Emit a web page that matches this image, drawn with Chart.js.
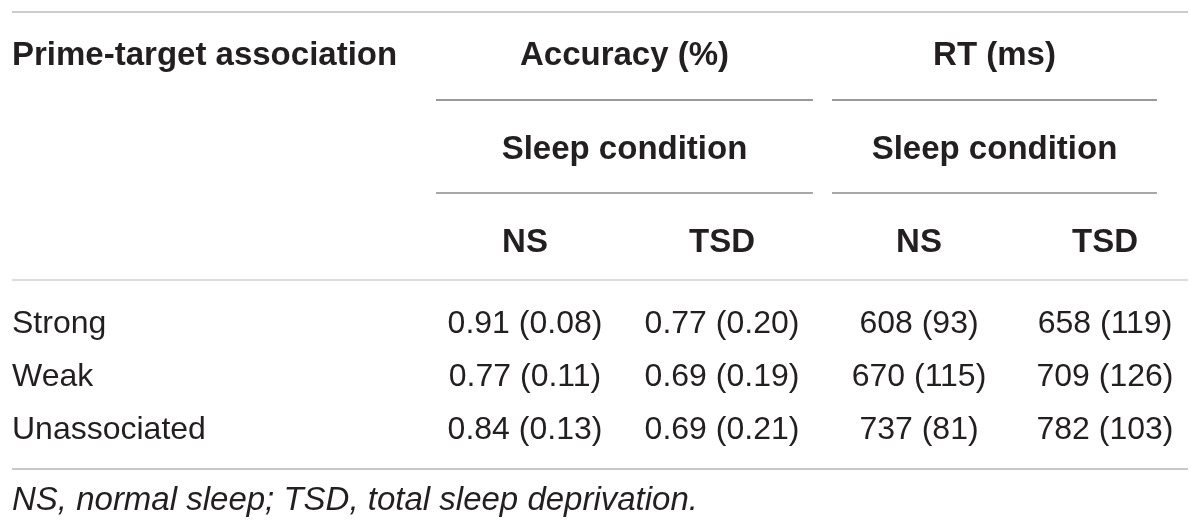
<!DOCTYPE html>
<html lang="en">
  <head>
    <meta charset="UTF-8" />
    <title>Prime-target association</title>
    <script src="https://cdn.jsdelivr.net/npm/chart.js"></script>
    <style>
      html,
      body {
        margin: 0;
        padding: 0;
        background: #ffffff;
      }
      .chart-container {
        position: relative;
        width: 1200px;
        height: 531px;
      }
    </style>
  </head>
  <body>
    <div class="chart-container">
      <canvas id="table"></canvas>
    </div>

    <script>
      // table contents
      const stubHeader = "Prime-target association";
      const groupHeaders = ["Accuracy (%)", "RT (ms)"];
      const subHeader = "Sleep condition";
      const conditions = ["NS", "TSD", "NS", "TSD"];
      const associations = ["Strong", "Weak", "Unassociated"];

      const accNSMean = [0.91, 0.77, 0.84];
      const accNSSD = [0.08, 0.11, 0.13];
      const accTSDMean = [0.77, 0.69, 0.69];
      const accTSDSD = [0.2, 0.19, 0.21];
      const rtNSMean = [608, 670, 737];
      const rtNSSD = [93, 115, 81];
      const rtTSDMean = [658, 709, 782];
      const rtTSDSD = [119, 126, 103];

      const footnote = "NS, normal sleep; TSD, total sleep deprivation.";

      // layout (in page pixels, mapped through the hidden linear scales)
      const layout = {
        left: 12,
        right: 1188,
        groupSpans: [
          [436, 813],
          [832, 1157],
        ],
        cols: [525, 722, 919, 1105],
        topRule: 12,
        groupBase: 65,
        groupRule: 100,
        subBase: 159,
        subRule: 193,
        condBase: 252,
        headRule: 280,
        firstRowBase: 333,
        rowStep: 53,
        bottomRule: 469,
        noteBase: 510,
      };

      const FONT = "'Liberation Sans', Arial, Helvetica, sans-serif";
      const INK = "#231f20";

      const fmtAcc = (m, s) => m.toFixed(2) + " (" + s.toFixed(2) + ")";
      const fmtRT = (m, s) => m + " (" + s + ")";

      const columns = [
        associations.map((_, i) => fmtAcc(accNSMean[i], accNSSD[i])),
        associations.map((_, i) => fmtAcc(accTSDMean[i], accTSDSD[i])),
        associations.map((_, i) => fmtRT(rtNSMean[i], rtNSSD[i])),
        associations.map((_, i) => fmtRT(rtTSDMean[i], rtTSDSD[i])),
      ];

      // one scatter dataset per value column
      const datasets = columns.map((col, c) => ({
        label: conditions[c],
        data: col.map((txt, r) => ({
          x: layout.cols[c],
          y: layout.firstRowBase + r * layout.rowStep,
          txt: txt,
        })),
        pointRadius: 0,
        pointHoverRadius: 0,
      }));
      // stub column
      datasets.push({
        label: "stub",
        data: associations.map((txt, r) => ({
          x: layout.left,
          y: layout.firstRowBase + r * layout.rowStep,
          txt: txt,
          align: "left",
        })),
        pointRadius: 0,
        pointHoverRadius: 0,
      });

      const tablePlugin = {
        id: "tableDraw",
        afterDatasetsDraw(chart) {
          const ctx = chart.ctx;
          const xs = chart.scales.x;
          const ys = chart.scales.y;
          const px = (v) => xs.getPixelForValue(v);
          const py = (v) => ys.getPixelForValue(v);

          function rule(x0, x1, y, color) {
            ctx.save();
            ctx.strokeStyle = color;
            ctx.lineWidth = 2;
            ctx.beginPath();
            ctx.moveTo(px(x0), py(y));
            ctx.lineTo(px(x1), py(y));
            ctx.stroke();
            ctx.restore();
          }

          function text(str, x, y, weight, size, align, style) {
            ctx.save();
            ctx.fillStyle = INK;
            ctx.font = (style || "normal") + " " + weight + " " + size + "px " + FONT;
            ctx.textAlign = align;
            ctx.textBaseline = "alphabetic";
            ctx.fillText(str, x, y);
            ctx.restore();
          }

          // rules
          rule(layout.left, layout.right, layout.topRule, "#cccccc");
          layout.groupSpans.forEach((s) => {
            rule(s[0], s[1], layout.groupRule, "#9a9a9a");
            rule(s[0], s[1], layout.subRule, "#a8a8a8");
          });
          rule(layout.left, layout.right, layout.headRule, "#dddddd");
          rule(layout.left, layout.right, layout.bottomRule, "#c8c8c8");

          // headers
          text(stubHeader, px(layout.left), py(layout.groupBase), "bold", 33, "left");
          groupHeaders.forEach((h, g) => {
            const s = layout.groupSpans[g];
            const cx = px((s[0] + s[1]) / 2);
            text(h, cx, py(layout.groupBase), "bold", 33, "center");
            text(subHeader, cx, py(layout.subBase), "bold", 33, "center");
          });
          conditions.forEach((c, i) => {
            text(c, px(layout.cols[i]), py(layout.condBase), "bold", 33, "center");
          });

          // body cells, positioned from the dataset elements
          chart.data.datasets.forEach((ds, d) => {
            const meta = chart.getDatasetMeta(d);
            meta.data.forEach((el, i) => {
              const pt = ds.data[i];
              text(pt.txt, el.x, el.y, "normal", 32, pt.align || "center");
            });
          });

          // footnote
          text(footnote, px(layout.left), py(layout.noteBase), "normal", 33, "left", "italic");
        },
      };

      new Chart(document.getElementById("table").getContext("2d"), {
        type: "scatter",
        data: { datasets: datasets },
        options: {
          responsive: true,
          maintainAspectRatio: false,
          animation: false,
          events: [],
          layout: { padding: 0 },
          plugins: {
            legend: { display: false },
            tooltip: { enabled: false },
          },
          scales: {
            x: { type: "linear", display: false, min: 0, max: 1200 },
            y: { type: "linear", display: false, reverse: true, min: 0, max: 531 },
          },
        },
        plugins: [tablePlugin],
      });
    </script>
  </body>
</html>
